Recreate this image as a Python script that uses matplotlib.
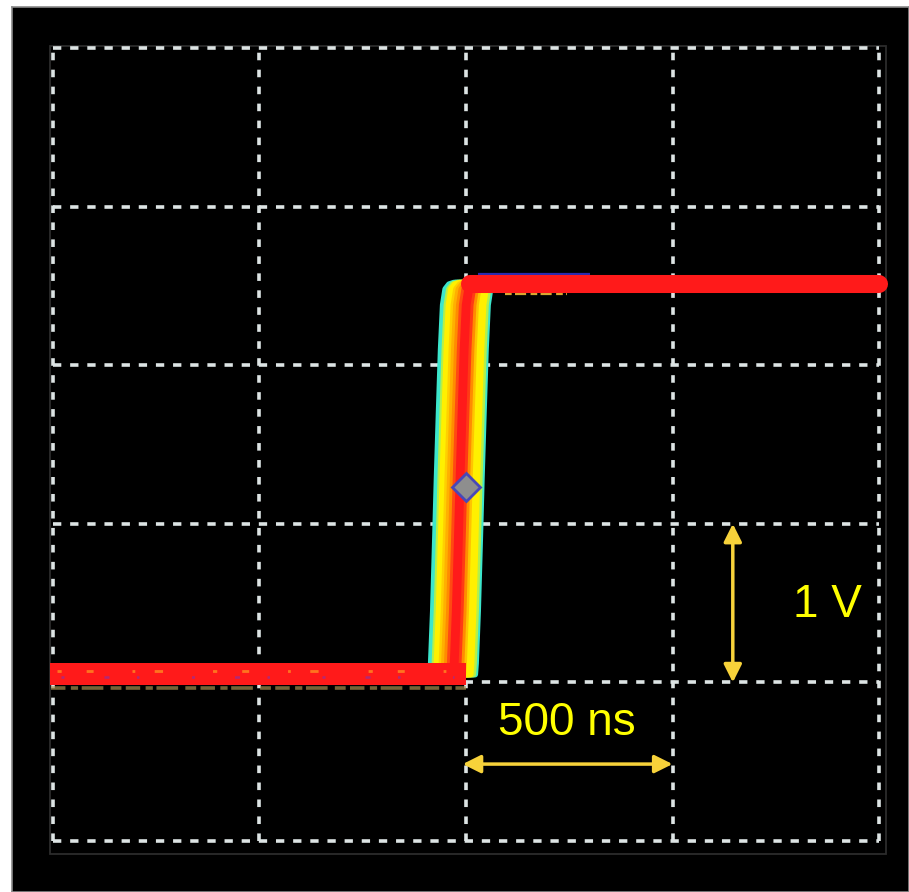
import matplotlib
matplotlib.use("Agg")
import matplotlib.pyplot as plt
from matplotlib.patches import Rectangle, FancyArrowPatch

# ---------------- data (read from the oscilloscope capture) ----------------
grid_t_ns = [-1000, -500, 0, 500, 1000]        # 500 ns / div
grid_v = [-1, 0, 1, 2, 3, 4]                    # 1 V / div

low_level_v = 0.053
high_level_v = 2.513
low_band_half_v = 0.07
high_band_half_v = 0.057

# rise shape relative to each trace's mid-crossing time
rise_dt_ns = [-16, -14, -9, -4, 0, 5, 10, 15, 21, 30, 42]
rise_v = [0.05, 0.12, 0.45, 0.90, 1.28, 1.70, 2.10, 2.38, 2.48, 2.51, 2.52]

# persistence traces: mid-crossing delay and colour grade
trace_delays_ns = [-71, -67, -62, -57, -51, -45, -39, -32, -25, -18, -11, -4, 3, 9, 15, 21, 27, 33, 38]
trace_colors = ['#3ce6cc', '#3ce6cc', '#b4f04a', '#fff000', '#fff000', '#ffd000', '#ffb000',
                '#ff8c00', '#ff4a12', '#ff1a1a', '#ff1a1a', '#ff3a14', '#ff8c00', '#ffc400',
                '#fff000', '#fff000', '#fff000', '#b4f04a', '#3ce6cc']
trace_rank = [0, 0, 1, 2, 2, 3, 3, 4, 5, 6, 6, 5, 4, 3, 2, 2, 2, 1, 0]

low_band_end_ns = 0
high_band_start_ns = 10

trigger_t_ns = 0
trigger_v = 1.232

v_arrow_t_ns = 646
v_arrow_v = [0, 1]
h_arrow_v = -0.515
h_arrow_t_ns = [-8, 500]
v_label = "1 V"
v_label_pos = (874, 0.49)
h_label = "500 ns"
h_label_pos = (245, -0.255)

# ---------------- figure ----------------
W, H = 909, 892
fig = plt.figure(figsize=(W / 100, H / 100), dpi=100, facecolor='white')

# black scope panel (background axes)
bg = fig.add_axes([12 / W, 0, 1 - 12 / W, 1 - 7 / H], zorder=-5)
bg.set_facecolor('black')
bg.set_xticks([])
bg.set_yticks([])
for s in bg.spines.values():
    s.set_color('#8a8a8a')
    s.set_linewidth(1.2)

ax = fig.add_axes([53 / W, 1 - 841 / H, 826 / W, 793 / H], zorder=1)
ax.patch.set_alpha(0)
ax.set_xlim(grid_t_ns[0], grid_t_ns[-1])
ax.set_ylim(grid_v[0], grid_v[-1])
for s in ax.spines.values():
    s.set_visible(False)
ax.set_xticks([])
ax.set_yticks([])

# faint border around graticule
ax.add_patch(Rectangle((-1007, -1.081), 2024, 5.094, fill=False, edgecolor='#2c2c2c',
                       lw=1.3, clip_on=False, zorder=1))

# dashed graticule
grid_kw = dict(color='#dde4e4', lw=2.6, zorder=2, clip_on=False)
for t in grid_t_ns:
    ax.plot([t, t], [grid_v[0], grid_v[-1]], dashes=(2.1, 2.6), **grid_kw)
for v in grid_v:
    ax.plot([grid_t_ns[0], grid_t_ns[-1]], [v, v], dashes=(2.3, 2.45), **grid_kw)

# persistence traces (rarest drawn first)
order = sorted(range(len(trace_delays_ns)), key=lambda i: trace_rank[i])
for i in order:
    d = trace_delays_ns[i]
    t = [grid_t_ns[0]] + [d + x for x in rise_dt_ns] + [grid_t_ns[-1]]
    v = [low_level_v] + rise_v + [high_level_v]
    ax.plot(t, v, color=trace_colors[i], lw=4.3, solid_joinstyle='round',
            solid_capstyle='round', zorder=3, clip_on=False)

# fringe speckle under the low band and around high band
ax.plot([-1005, low_band_end_ns], [low_level_v - 0.088] * 2, color='#a89050', lw=2.6,
        alpha=0.7, zorder=3.5, clip_on=False, dashes=(4, 1.5, 2, 1, 6, 2, 3, 1.2))
ax.plot([30, 300], [high_level_v + 0.062] * 2, color='#2a2ab0', lw=1.6, zorder=3.5,
        solid_capstyle='butt')
ax.plot([95, 245], [high_level_v - 0.062] * 2, color='#d8a830', lw=1.6, zorder=3.5,
        dashes=(3, 1.5, 5, 2))

# dense low / high bands
ax.fill_between([-1007, low_band_end_ns], low_level_v - low_band_half_v,
                low_level_v + low_band_half_v, color='#ff1a1a', lw=0, zorder=4, clip_on=False)
ax.plot([high_band_start_ns, grid_t_ns[-1]], [high_level_v] * 2, color='#ff1a1a', lw=13,
        solid_capstyle='round', zorder=4, clip_on=False)

# speckles inside the low band
ax.plot([-990, -20], [low_level_v + 0.02] * 2, color='#ff8c20', lw=2.0, alpha=0.8, zorder=4.5,
        dashes=(1.5, 9, 2.5, 14, 1, 7, 3, 18))
ax.plot([-980, -30], [low_level_v - 0.02] * 2, color='#9030a0', lw=1.8, alpha=0.7, zorder=4.5,
        dashes=(1.2, 16, 2, 11, 1, 21))

# trigger marker
ax.plot([trigger_t_ns], [trigger_v], marker='D', ms=14, mfc='#8e8e8e', mec='#4848b8',
        mew=2, zorder=6)

# scale annotations
arrow_col = '#f7d23a'
for a, b in [((v_arrow_t_ns, v_arrow_v[0]), (v_arrow_t_ns, v_arrow_v[1])),
             ((h_arrow_t_ns[0], h_arrow_v), (h_arrow_t_ns[1], h_arrow_v))]:
    ax.add_patch(FancyArrowPatch(a, b, arrowstyle='<|-|>', mutation_scale=27,
                                 color=arrow_col, lw=2.5, shrinkA=0, shrinkB=0, zorder=7))

txt_kw = dict(color='#ffff00', fontsize=33, family='Liberation Sans', ha='center',
              va='center', zorder=8)
ax.text(*v_label_pos, v_label, **txt_kw)
ax.text(*h_label_pos, h_label, **txt_kw)

fig.savefig('out.png', dpi=100, facecolor='white')
